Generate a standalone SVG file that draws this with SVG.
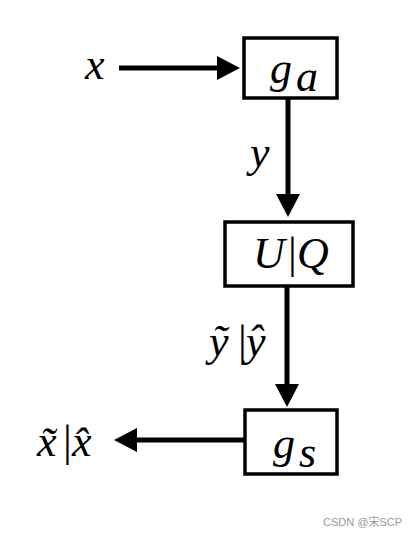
<svg xmlns="http://www.w3.org/2000/svg" width="415" height="537" viewBox="0 0 415 537">
<defs>
<style>
.box{fill:#fff;stroke:#000;stroke-width:3.5}
.edge{stroke:#000;stroke-width:5;fill:none;marker-end:url(#ah)}
.m{font-family:"Liberation Serif","DejaVu Serif",serif;font-style:italic;font-size:44px;fill:#000}
.b{font-style:normal}
.wm{font-family:"Liberation Sans","Noto Sans CJK SC",sans-serif;font-size:11px;fill:#999}
</style>
<marker id="ah" markerUnits="userSpaceOnUse" viewBox="0 -12 23 24" refX="1" refY="0" markerWidth="23" markerHeight="24" orient="auto">
<path d="M0,-12 L23,0 L0,12 z" fill="#000"/>
</marker>
</defs>
<rect width="415" height="537" fill="#fff"/>
<g id="connectors">
<line class="edge" x1="119" y1="68" x2="218" y2="68"/>
<line class="edge" x1="288" y1="99" x2="288" y2="195"/>
<line class="edge" x1="287" y1="287" x2="287" y2="385"/>
<line class="edge" x1="244" y1="440" x2="136" y2="440"/>
</g>
<g id="node-ga">
<rect class="box" x="244" y="38" width="93" height="60"/>
<text class="m" x="270" y="83">g</text>
<text class="m" x="296" y="91" font-size="32">a</text>
</g>
<g id="node-uq">
<rect class="box" x="225" y="222" width="128" height="64"/>
<text class="m" x="253" y="268">U</text>
<text class="m b" x="288" y="268">|</text>
<text class="m" x="297" y="268">Q</text>
</g>
<g id="node-gs">
<rect class="box" x="245" y="410" width="92" height="64"/>
<text class="m" x="273" y="458">g</text>
<text class="m" x="299" y="467" font-size="32">s</text>
</g>
<g id="labels">
<text class="m" x="85" y="79">x</text>
<text class="m" x="250" y="167">y</text>
<text class="m" x="209" y="356">ỹ</text>
<text class="m b" x="238" y="356">|</text>
<text class="m" x="246" y="356">ŷ</text>
<text class="m" x="37" y="456">x̃</text>
<text class="m b" x="63" y="456">|</text>
<text class="m" x="72" y="456">x̂</text>
</g>
<text class="wm" x="323" y="526">CSDN @宋SCP</text>
</svg>
